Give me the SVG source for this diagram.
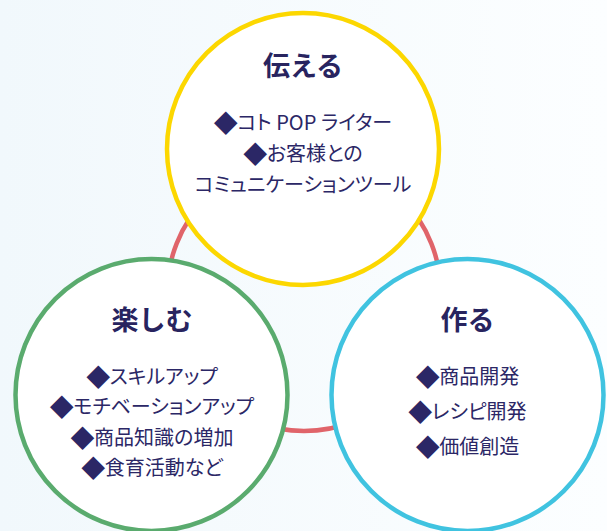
<svg xmlns="http://www.w3.org/2000/svg" width="607" height="531" viewBox="0 0 607 531">
  <defs>
    <linearGradient id="bg" x1="0" y1="0" x2="1" y2="0">
      <stop offset="0" stop-color="#f1f8fc"/>
      <stop offset="1" stop-color="#fcfeff"/>
    </linearGradient>
    <style>
      .node { fill: #ffffff; stroke-width: 4.5; }
      .title { font-family: "Noto Sans CJK JP", "Noto Sans", sans-serif; font-weight: 700; font-size: 27px; fill: #28245f; text-anchor: middle; }
      .item { font-family: "Noto Sans CJK JP", "Noto Sans", sans-serif; font-weight: 400; font-size: 20px; fill: #2b2766; text-anchor: middle; font-feature-settings: "palt" 1; }
      .d { font-size: 24px; letter-spacing: -0.5px; baseline-shift: -1.5px; }
    </style>
  </defs>
  <rect x="0" y="0" width="607" height="531" fill="url(#bg)"/>

  <g id="connectors">
    <circle cx="304" cy="294" r="137" fill="none" stroke="#e0646a" stroke-width="4.5"/>
  </g>

  <g id="node-tsutaeru">
    <circle class="node" cx="303" cy="149" r="136" stroke="#fcd700"/>
    <text class="title" x="303" y="76">伝える</text>
    <text class="item" x="303" y="130"><tspan class="d">◆</tspan>コト POP ライター</text>
    <text class="item" x="303" y="161"><tspan class="d">◆</tspan>お客様との</text>
    <text class="item" x="303" y="191.5">コミュニケーションツール</text>
  </g>

  <g id="node-tanoshimu">
    <circle class="node" cx="151.5" cy="395" r="136" stroke="#5aab6e"/>
    <text class="title" x="152" y="330">楽しむ</text>
    <text class="item" x="152" y="383.5"><tspan class="d">◆</tspan>スキルアップ</text>
    <text class="item" x="152" y="414"><tspan class="d">◆</tspan>モチベーションアップ</text>
    <text class="item" x="152" y="444.5"><tspan class="d">◆</tspan>商品知識の増加</text>
    <text class="item" x="152" y="475"><tspan class="d">◆</tspan>食育活動など</text>
  </g>

  <g id="node-tsukuru">
    <circle class="node" cx="467.5" cy="395" r="136" stroke="#40c3e0"/>
    <text class="title" x="467.5" y="330">作る</text>
    <text class="item" x="467.5" y="383.5"><tspan class="d">◆</tspan>商品開発</text>
    <text class="item" x="467.5" y="418.5"><tspan class="d">◆</tspan>レシピ開発</text>
    <text class="item" x="467.5" y="453.5"><tspan class="d">◆</tspan>価値創造</text>
  </g>
</svg>
